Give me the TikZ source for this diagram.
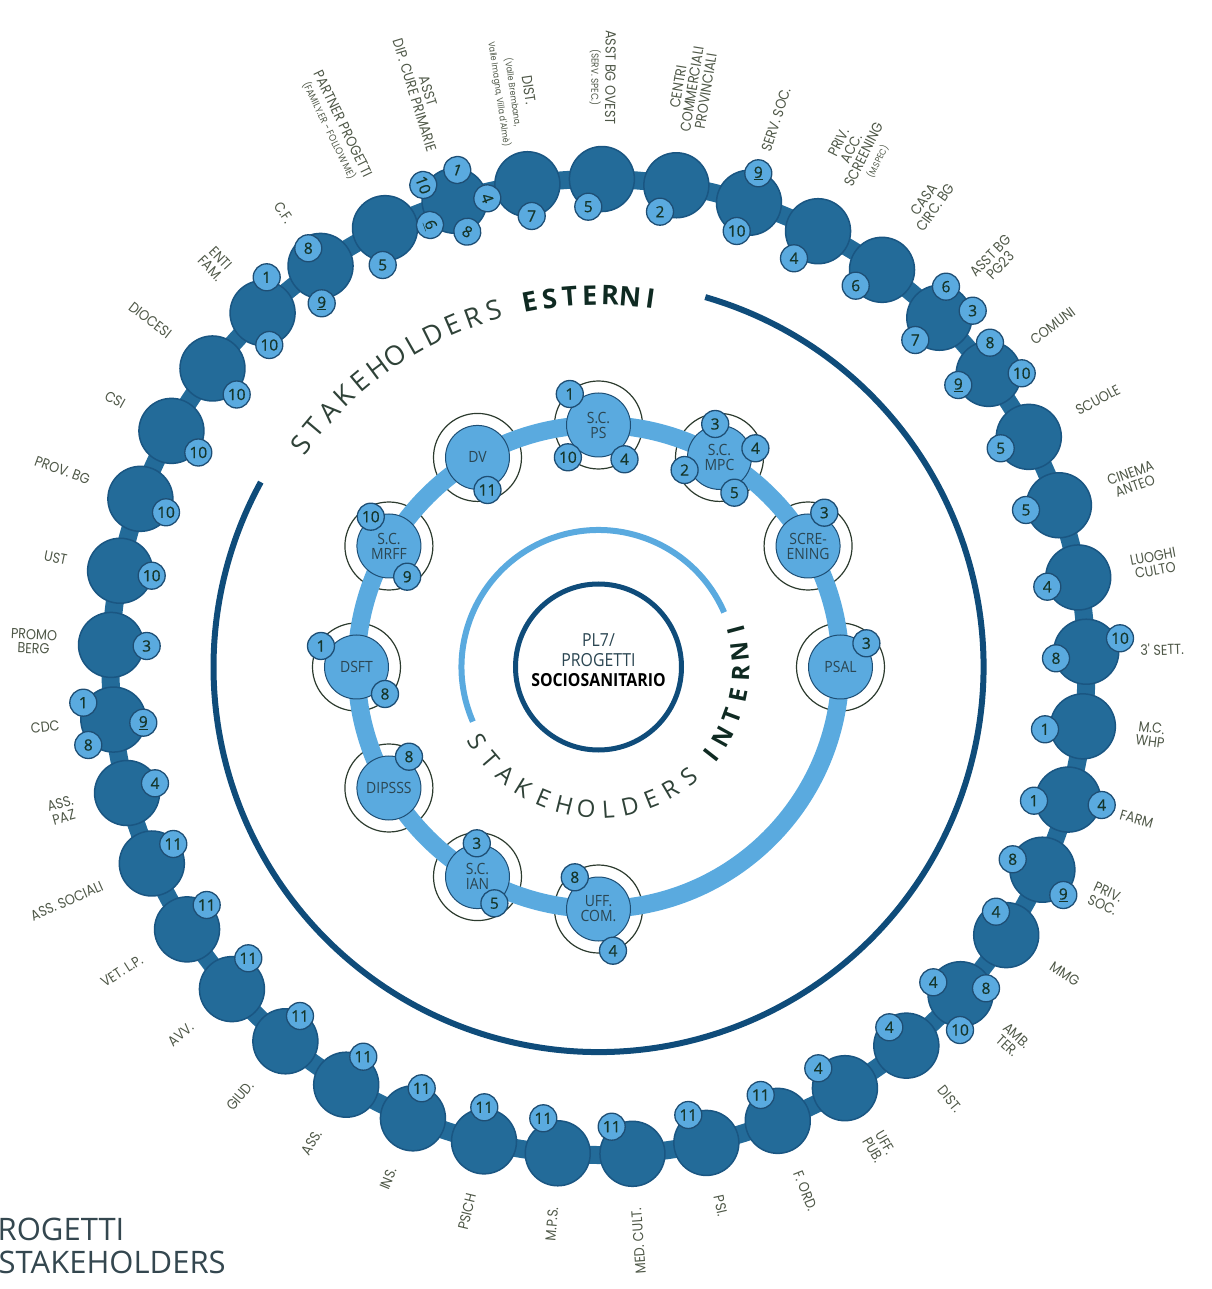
\documentclass[tikz,border=0pt]{standalone}
\usepackage{fontspec}
\setmainfont{Open Sans}
\newfontfamily\labfont{Poppins}[FakeStretch=0.88]
\newfontfamily\numfont{Open Sans}[FakeBold=0.6]
\newfontfamily\innfont{Open Sans}[FakeStretch=0.9]
\newfontfamily\ctrfont{Open Sans}[FakeStretch=0.88]
\usetikzlibrary{calc}
\definecolor{dkb}{HTML}{236B99}
\definecolor{dkbe}{HTML}{1A5682}
\definecolor{navy}{HTML}{0F4C7A}
\definecolor{lb}{HTML}{5AAADF}
\definecolor{bde}{HTML}{1E4E74}
\definecolor{numc}{HTML}{15362B}
\definecolor{labc}{HTML}{4E5747}
\definecolor{innc}{HTML}{2B4652}
\definecolor{ringc}{HTML}{2C3B2E}
\definecolor{stkc}{HTML}{2F4238}
\definecolor{stkb}{HTML}{0F2A22}
\definecolor{titc}{HTML}{34474F}
\newcommand\lsmall{\fontsize{10}{11}\selectfont}
\newcommand\ltiny{\fontsize{9}{10}\selectfont}
\newcommand\labR[3][542]{\pgfmathsetmacro\labang{89.6-8.7805*#2}\node[lab, rotate=\labang, anchor=west] (l#2) at (\labang:#1) {#3};}
\newcommand\labL[3][542]{\pgfmathsetmacro\labang{89.6-8.7805*#2}\node[lab, rotate=\labang+180, anchor=east] (l#2) at (\labang:#1) {#3};}
\newcommand\bdg[5][]{\node[badge,#1] (#2) at ({#3-598.5},{667-#4}) {#5};}
\tikzset{
  outer/.style={circle, fill=dkb, draw=dkbe, line width=1.5pt, minimum size=65pt, inner sep=0pt},
  badge/.style={circle, fill=lb, draw=bde, line width=1.3pt, minimum size=27pt, inner sep=0pt, text=numc, font=\numfont\fontsize{15.5}{15.5}\selectfont},
  lab/.style={font=\labfont\fontsize{14.5}{14}\selectfont, text=labc, inner sep=0pt, align=center},
  inn/.style={circle, fill=lb, draw=bde, line width=1pt, minimum size=64pt, inner sep=0pt, align=center, text=innc, font=\innfont\fontsize{15.5}{15}\selectfont},
  ringline/.style={draw=ringc, line width=1.2pt},
  letE/.style={font=\fontsize{27}{27}\selectfont, text=stkc, anchor=base, inner sep=0pt},
  letEb/.style={font=\bfseries\fontsize{27}{27}\selectfont, text=stkb, anchor=base, inner sep=0pt},
  letI/.style={font=\fontsize{24}{24}\selectfont, text=stkc, anchor=base, inner sep=0pt},
  letIb/.style={font=\bfseries\fontsize{24}{24}\selectfont, text=stkb, anchor=base, inner sep=0pt},
  titl/.style={font=\fontsize{31}{31}\selectfont, text=titc, anchor=base west, inner sep=0pt}
}
\begin{document}
\begin{tikzpicture}[x=1pt,y=1pt]
\useasboundingbox (-598.5,-622) rectangle (612.5,667);
% outer chain
\draw[dkb, line width=18pt] (0,0) circle[radius=488];
\foreach \i in {0,...,40}{
  \pgfmathsetmacro\oa{89.6-8.7805*\i}
  \node[outer] (o\i) at (\oa:488) {};
}
% outer badges
\bdg{b0a}{588.3}{206.7}{5}
\bdg{b1a}{660}{211.7}{2}
\bdg{b2a}{758.3}{173.3}{\underline{9}}
\bdg{b2b}{736.7}{231}{10}
\bdg{b3a}{794}{258.3}{4}
\bdg{b4a}{855.7}{285.7}{6}
\bdg{b5a}{946}{286.7}{6}
\bdg{b5b}{972.7}{310.7}{3}
\bdg{b5c}{915.3}{340}{7}
\bdg{b6a}{990}{342.7}{8}
\bdg{b6b}{1021.7}{373.3}{10}
\bdg{b6c}{958.3}{385}{\underline{9}}
\bdg{b7a}{1000.7}{448.3}{5}
\bdg{b8a}{1026}{510}{5}
\bdg{b9a}{1047.3}{586.7}{4}
\bdg{b10a}{1120}{638.3}{10}
\bdg{b10b}{1056}{658.3}{8}
\bdg{b11a}{1045}{729.3}{1}
\bdg{b12a}{1034}{800.7}{1}
\bdg{b12b}{1101.7}{805}{4}
\bdg{b13a}{1012.7}{859.3}{8}
\bdg{b13b}{1063.3}{895}{\underline{9}}
\bdg{b14a}{996}{911.7}{4}
\bdg{b15a}{933.3}{982.3}{4}
\bdg{b15b}{986}{988.3}{8}
\bdg{b15c}{960}{1030}{10}
\bdg{b16a}{889.3}{1027.3}{4}
\bdg{b17a}{818.3}{1068.3}{4}
\bdg{b18a}{760.7}{1095}{11}
\bdg{b19a}{688.3}{1115}{11}
\bdg{b20a}{611.7}{1126.7}{11}
\bdg{b21a}{543.3}{1118.3}{11}
\bdg{b22a}{484.3}{1107.3}{11}
\bdg{b23a}{421.7}{1088.3}{11}
\bdg{b24a}{363.3}{1056.7}{11}
\bdg{b25a}{300}{1016}{11}
\bdg{b26a}{248.3}{958.3}{11}
\bdg{b27a}{206.7}{905}{11}
\bdg{b28a}{173.3}{844}{11}
\bdg{b29a}{155}{783.3}{4}
\bdg{b30a}{83.3}{702.7}{1}
\bdg{b30b}{143.3}{722.7}{\underline{9}}
\bdg{b30c}{88.3}{745}{8}
\bdg{b31a}{146.7}{646}{3}
\bdg{b32a}{151.7}{575.7}{10}
\bdg{b33a}{166}{512.3}{10}
\bdg{b34a}{198.3}{452.5}{10}
\bdg{b35a}{236.7}{394.5}{10}
\bdg{b36a}{266.7}{277.3}{1}
\bdg{b36b}{269.3}{345}{10}
\bdg{b37a}{308.3}{248.3}{8}
\bdg{b37b}{321.7}{303.3}{\underline{9}}
\bdg{b38a}{382.7}{265}{5}
\bdg[rotate=-70]{b39a}{423.3}{185}{10}
\bdg[rotate=-20]{b39b}{457.3}{170}{1}
\bdg[rotate=-70]{b39c}{487.3}{198.3}{4}
\bdg[rotate=-70]{b39d}{430}{225}{\underline{6}}
\bdg[rotate=-30]{b39e}{467.3}{231.7}{8}
\bdg{b40a}{531.7}{216}{7}
% outer labels
\labL{0}{ASST BG OVEST\\{\lsmall (SERV. SPEC.)}}
\labR{1}{CENTRI\\COMMERCIALI\\PROVINCIALI}
\labR{2}{SERV. SOC.}
\labR{3}{PRIV.\\ACC.\\SCREENING\\{\ltiny (M.SPEC)}}
\labR{4}{CASA\\CIRC. BG}
\labR{5}{ASST BG\\PG23}
\labR{6}{COMUNI}
\labR{7}{SCUOLE}
\labR{8}{CINEMA\\ANTEO}
\labR{9}{LUOGHI\\CULTO}
\labR{10}{3' SETT.}
\labR{11}{M.C.\\WHP}
\labR{12}{FARM}
\labR{13}{PRIV.\\SOC.}
\labR{14}{MMG}
\labR{15}{AMB.\\TER.}
\labR{16}{DIST.}
\labR{17}{UFF.\\PUB.}
\labR{18}{F. ORD.}
\labR{19}{PSI.}
\labL{20}{MED. CULT.}
\labL{21}{M.P.S.}
\labL{22}{PSICH}
\labL{23}{INS.}
\labL{24}{ASS.}
\labL{25}{GIUD.}
\labL{26}{AVV.}
\labL{27}{VET. L.P.}
\labL{28}{ASS. SOCIALI}
\labL{29}{ASS.\\PAZ}
\labL{30}{CDC}
\labL{31}{PROMO\\BERG}
\labL{32}{UST}
\labL{33}{PROV. BG}
\labL{34}{CSI}
\labL{35}{DIOCESI}
\labL{36}{ENTI\\FAM.}
\labL{37}{C.F.}
\labL{38}{PARTNER PROGETTI\\{\lsmall (FAMILY.ER - FOLLOW ME)}}
\labL{39}{ASST\\DIP. CURE PRIMARIE}
\labL[528]{40}{DIST.\\{\ltiny (Valle Brembana,}\\{\ltiny Valle Imagna, Villa d'Almè)}}
% esterni arc and text
\draw[navy, line width=6pt] (73.9:385) arc[start angle=73.9, end angle=-208.7, radius=385];
\foreach \c [count=\k from 0] in {S,T,A,K,E,H,O,L,D,E,R,S}{
  \pgfmathsetmacro\ph{143.2-3.345*\k}
  \node[letE, rotate=\ph-90] (se\k) at (\ph:362) {\c};
}
\foreach \c [count=\k from 0] in {E,S,T,E,R,N,I}{
  \pgfmathsetmacro\ph{100.7-3.12*\k}
  \node[letEb, rotate=\ph-90] (ee\k) at (\ph:362) {\c};
}
% inner ring
\foreach \a in {90,60,30,0,-90,-120,-150,180,150,120}{
  \draw[ringline] (\a:242) circle[radius=44];
}
\draw[lb, line width=18pt] (0,0) circle[radius=242];
\node[inn] (s0) at (90:242) {S.C.\\PS};
\node[inn] (s1) at (60:242) {S.C.\\MPC};
\node[inn] (s2) at (30:242) {SCRE-\\ENING};
\node[inn] (s3) at (0:242) {PSAL};
\node[inn] (s4) at (-90:242) {UFF.\\COM.};
\node[inn] (s5) at (-120:242) {S.C.\\IAN};
\node[inn] (s6) at (-150:242) {DIPSSS};
\node[inn] (s7) at (180:242) {DSFT};
\node[inn] (s8) at (150:242) {S.C.\\MRFF};
\node[inn] (s9) at (120:242) {DV};
% inner badges
\bdg{c0a}{569.8}{394}{1}
\bdg{c0b}{567.9}{457.3}{10}
\bdg{c0c}{624.5}{459.3}{4}
\bdg{c1a}{715.2}{424}{3}
\bdg{c1b}{755.4}{448.3}{4}
\bdg{c1c}{684.6}{470}{2}
\bdg{c1d}{734.4}{492.7}{5}
\bdg{c2a}{824.3}{512.7}{3}
\bdg{c3a}{866.4}{643.3}{3}
\bdg{c4a}{574.8}{877.3}{8}
\bdg{c4b}{613}{950.7}{4}
\bdg{c5a}{476.8}{843.3}{3}
\bdg{c5b}{494.4}{903.3}{5}
\bdg{c6a}{409}{756.7}{8}
\bdg{c7a}{321}{646}{1}
\bdg{c7b}{385}{694}{8}
\bdg{c8a}{370.8}{516.7}{10}
\bdg{c8b}{407.2}{576.7}{9}
\bdg{c9a}{487.5}{490}{11}
% interni arc, centre
\draw[lb, line width=6pt] (23.5:137) arc[start angle=23.5, end angle=203.5, radius=137];
\node[circle, draw=navy, line width=5pt, fill=white, minimum size=166pt, inner sep=0pt] (ctr) at (0,0) {};
\node[align=center, inner sep=0pt, text=innc, font=\ctrfont\fontsize{18}{20}\selectfont] (ctrt) at (0,7) {PL7/\\PROGETTI\\{\bfseries\color{black}SOCIOSANITARIO}};
\foreach \c [count=\k from 0] in {S,T,A,K,E,H,O,L,D,E,R,S}{
  \pgfmathsetmacro\ph{211.6+8.9*\k}
  \node[letI, rotate=\ph+90] (si\k) at (\ph:151) {\c};
}
\foreach \c [count=\k from 0] in {I,N,T,E,R,N,I}{
  \pgfmathsetmacro\ph{322+8.83*\k}
  \node[letIb, rotate=\ph+90] (ii\k) at (\ph:151) {\c};
}
% bottom-left title
\node[titl] (t1) at (-601,-573) {ROGETTI};
\node[titl] (t2) at (-600,-606) {STAKEHOLDERS};
\end{tikzpicture}
\end{document}
